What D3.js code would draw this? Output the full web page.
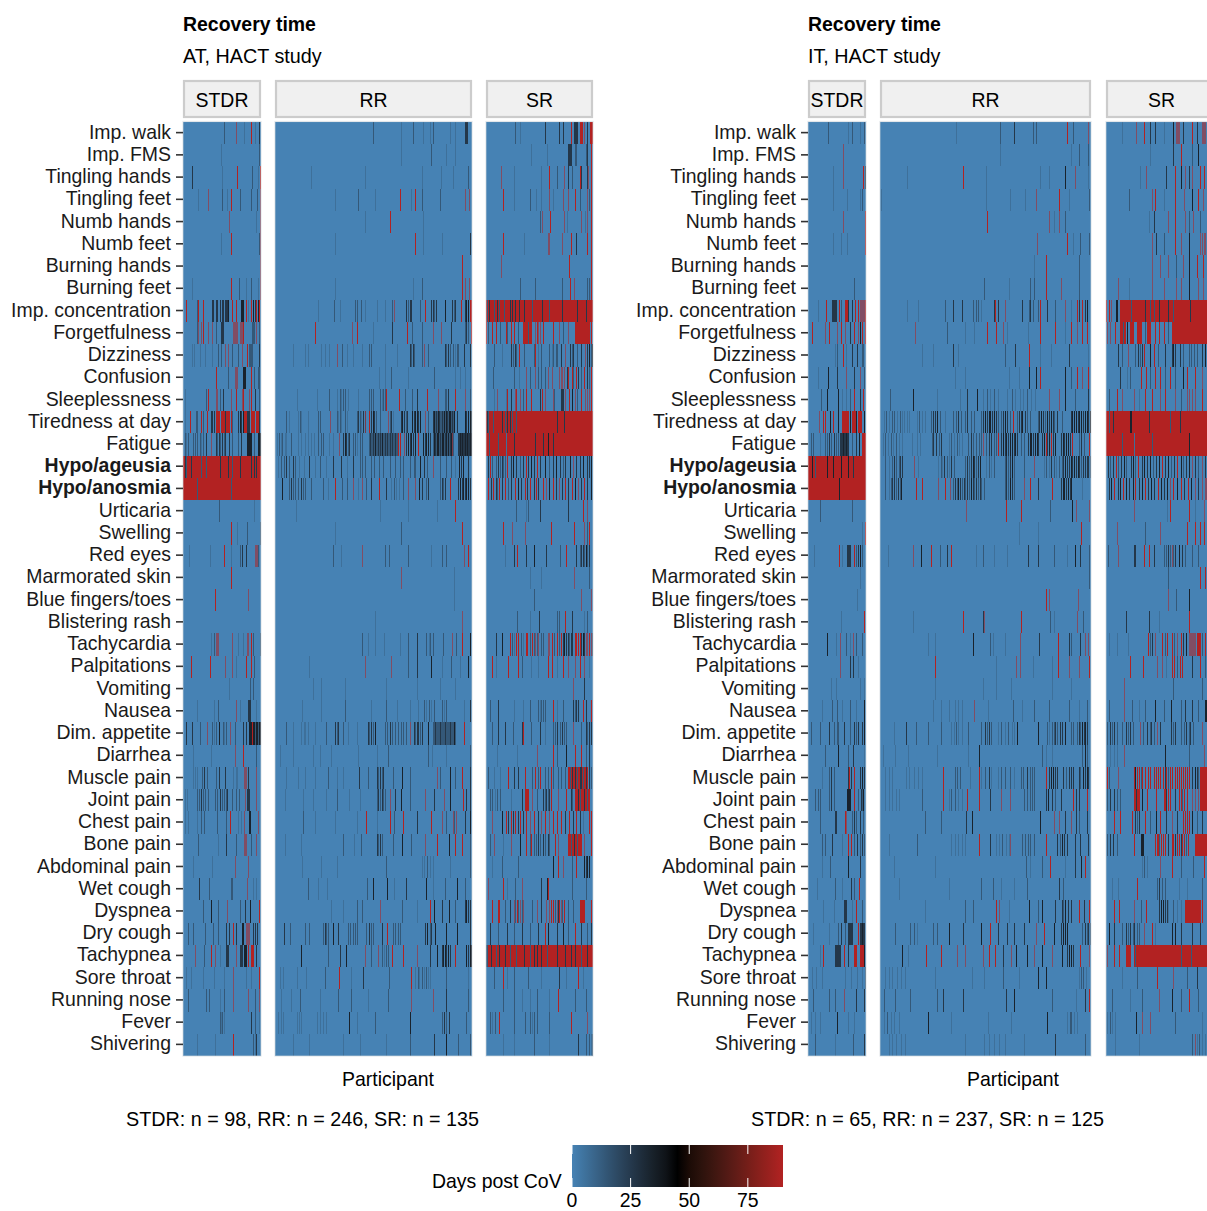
<!DOCTYPE html>
<html>
<head>
<meta charset="utf-8">
<script src="https://cdn.jsdelivr.net/npm/d3@7"></script>
<style>
  body { margin: 0; background: #fff; overflow: hidden; }
  svg { display: block; }
  text { font-family: "Liberation Sans", Arial, sans-serif; font-size: 19.45px; fill: #000; }
  .tick text { fill: #1a1a1a; font-size: 19.45px; font-family: "Liberation Sans", Arial, sans-serif; }
</style>
</head>
<body>
<div id="chart"></div>
<script>
const symptoms = ["Imp. walk","Imp. FMS","Tingling hands","Tingling feet","Numb hands","Numb feet","Burning hands","Burning feet","Imp. concentration","Forgetfulness","Dizziness","Confusion","Sleeplessness","Tiredness at day","Fatigue","Hypo/ageusia","Hypo/anosmia","Urticaria","Swelling","Red eyes","Marmorated skin","Blue fingers/toes","Blistering rash","Tachycardia","Palpitations","Vomiting","Nausea","Dim. appetite","Diarrhea","Muscle pain","Joint pain","Chest pain","Bone pain","Abdominal pain","Wet cough","Dyspnea","Dry cough","Tachypnea","Sore throat","Running nose","Fever","Shivering"];
const boldSymptoms = ["Hypo/ageusia","Hypo/anosmia"];

// days post CoV for the letters used in the rows below (anything not listed = 0 days)
const dayLevels = { l: 6, m: 14, d: 26, k: 34, v: 90, r: 90 };
// v = a red line that the reference shows washed out with its neighbours
const washedOut = "v";

// one string per symptom: participant index (or range) + level letter, later tokens paint over earlier ones
const at_stdr = [
"52m 66v 77l 86r 91l 96d",
"48l 96m",
"11d 49l 68r 87m 94l 97r",
"19l 31v 49m 55l 60r 71m 86m 93m 97v",
"58v 92l 97v",
"48l 60r 96m 97v",
"97v",
"11l 60r 70m 79l 86m 94l 97v",
"4r 17m 19r 25r 36d 38d 41-43d 46d 49-50d 53-56d 57k 62r 66r 73-76k 79r 82l 86r 88k 91d 92r 94k 96r",
"17m 19v 23v 25r 32v 37v 41m 48-50d 63-68v 72-74v 76r 87-89m 92v 96m",
"11l 14l 21l 28l 36l 44m 48m 53v 57v 62m 69m 74v 80r 83-87m 95d",
"41r 56m 65-68v 75-78k 85r 89m 94-96m",
"2l 29m 31r 42-43v 47m 50d 60v 66r 74v 76r 83v 85r 91d 96m",
"3l 9r 16-18m 23r 25m 30r 35d 37d 39d 42-46r 48-52r 53d 54-58r 60r 62m 69d 71k 73d 75k 77-79r 80-83d 85r 87-90r 92-94r 96d",
"2m 4l 6m 12m 15m 18m 21m 23l 25m 29d 35v 41d 43m 45d 47m 49d 51m 53d 58d 62m 69m 73d 80-86k 89m 94-97k",
"0-97r 2d 4m 10d 17v 22m 29m 47d 57d 62m 67v 72d 75-81v 85d 89d 92d 95v",
"0-97r 17m 60m",
"45m 89l",
"60r 68l 81m 97m",
"7l 34l 51d 52r 60l 71m 74d 79d 90-93v 94m",
"60r",
"40r 82v",
"",
"35l 39m 42-44v 61v 69l 76l 80v 82v 85r 88m 97m",
"10r 34r 53v 61v 66l 79-80r 85r 89m",
"58l 84m 88m",
"17l 39l 44m 66v 71l 82-85d 92l",
"4d 11d 21m 30v 37m 39l 42m 45-46k 50m 52l 54m 59v 65m 75d 79d 83-86k 87r 88-97k 91m 94m",
"12l 35l 65v 76r 92m",
"12l 15l 18l 24m 27d 30m 41m 45d 53d 63l 66l 68l 77-79v 82d 92v",
"2l 5l 17m 20m 22d 25m 28m 31m 40m 43m 46d 49m 52m 54m 55d 62m 66m 70m 78v 81-83d 92v",
"2l 6l 17l 23m 27m 43m 54m 59r 69l 73l 77v 83-85k 94v",
"19m 44l 54d 67m 77-79v 85m 92v",
"12l 37l 65v 82v",
"20d 33m 60m 62m 81v 88l 92l",
"25m 35k 44m 55v 71m 78d 84k 95r",
"6m 12m 28m 38m 44m 54d 58d 63r 66d 74-76k 79-83v 88d 90m 91d 93d",
"15v 26m 35r 40v 46l 54-57d 66v 71-74d 77-80k 82r 85-88r 92d",
"4l 10l 25l 39l 52l 63v 79l 85l 95r",
"6m 29m 33m 46l 52m 63v 82v 90m 95v",
"46m 48l 49m 52l 85d 91m 96l",
"17l 40l 63r 88m 90l 92d"
];
const at_rr = [
"122m 157l 172m 185l 193l 197m 218l 225l 237-240d",
"157l 195m 214l 225l",
"45l 113l 183l 207l 222l 241m",
"75l 104m 125l 156r 170l 175r 184m 206m 237v 242v",
"113l 144r 185l",
"75l 175r 185l 208l 244d",
"234r",
"75l 172l 184m 233r 237v 242v",
"54l 74m 81l 100m 102m 108m 113l 127l 137l 146m 148v 164d 166m 168d 170d 181m 187r 195d 197d 199m 201d 212k 221d 223m 225d 232r 237d 239k 241k 243-245r",
"50r 96v 103r 122l 146d 165r 171m 183m 197v 207v 220d 237m 239d 241m 245r",
"22l 37l 41l 58l 63l 68l 77v 84m 90l 98l 109l 117m 120m 137l 152l 168d 170m 172d 174m 183m 186v 191m 212d 214m 216d 218m 222m 225l 227m 229m 236d 243d",
"130l 137l 145m 166l 198m 225l 231l 237l 243l",
"27l 52l 68m 77l 81m 83l 85m 87m 91l 104l 118m 120m 122m 131m 133l 135m 137m 139r 155r 162m 171m 177d 190r 204v 212m 214m 216d 225r 237v 243m",
"14m 18l 29l 31m 33l 41l 54m 56m 69v 77m 79l 81m 83l 87m 90l 102m 104d 106m 108l 110d 112m 113v 118r 120d 122k 124d 126m 131m 141v 143m 145d 147l 157d 159k 161d 163m 165d 171k 173d 175k 177k 179d 181k 187v 191m 197-223m 197d 199k 201d 203k 205d 207m 209d 211k 213k 215d 217k 219k 221d 223k 227d 237k 239d 241k 243k 245d",
"2l 5m 7l 9m 12l 14l 20m 29l 33l 37l 41l 45l 49l 54m 57m 60m 68l 72l 80v 85d 87k 89d 91m 93d 97m 100m 103l 106m 109m 118-152m 119d 122d 125k 128d 131d 134k 137d 140d 143d 146d 150d 153r 156r 161v 164d 166k 168d 170k 172d 175k 178r 185k 187d 189k 191k 193d 197-222m 198k 200d 202k 204k 206d 208k 210k 212d 214k 216k 218d 220k 221v 229-245d 231k 234k 237k 240k 243k 245k",
"4l 7m 11m 14d 18m 22d 25m 30l 36l 43d 50l 56m 64l 72d 83d 90l 97d 106m 109m 112m 120m 123m 130m 135m 143m 150m 156m 160m 168m 173m 175m 181k 186d 190m 197v 206m 214m 220m 225l 230k 232d 235k 241d",
"9k 18m 20d 23m 25m 29m 32d 35m 37m 45m 60m 66l 75r 84m 90m 98v 104l 109v 114m 120d 130r 139d 145l 148m 151l 155l 160m 166v 175v 180k 183d 189m 191d 206m 208d 210m 212d 219r 229d 231k 233d 235k 237d 239k 241k 243d",
"26l 131l 166l 202l 225r",
"75l 157m 234r",
"72m 83l 109v 137m 142m 166m 195l 208m 214m 236v 241r",
"157v 224l",
"224l",
"125l 234v",
"109m 116l 125l 136l 156l 166m 177d 189m 192l 194m 197m 210m 221v 226m 233r 243k",
"42l 113v 145v 166m 177d 195k 208l 220m 231l 241k",
"48l 58l 87l 139l 177l 206l 225l",
"34l 58l 87m 120l 139m 152l 168l 179l 186m 189l 192m 195l 198m 208m 211l 214m 236l 243d",
"14m 22l 33l 36l 38l 41l 50l 64m 75d 77m 79d 85m 91l 102l 116d 118m 120d 122m 125k 137m 140m 143d 146m 150m 154m 157m 160m 163m 168v 173d 175m 177d 179d 181m 183d 191k 197-225m 200d 206d 212d 218d 223k 236r",
"6l 22l 48l 56l 70l 104l 127l 141m 191m 196l 214l 243m",
"14l 29l 37l 50l 66m 77l 85l 105d 116m 127d 129m 131d 133m 135d 147m 158k 168m 202v 206m 218k 225m 233r 243d",
"13l 35l 48l 64l 77m 93l 106l 127m 129d 131m 133d 135m 137m 144v 150d 157k 169m 187v 198d 211v 218k 235r 239d 243d",
"35m 50l 75l 103l 114r 127l 144r 148m 160r 177d 195r 208v 214m 222v 224m 226v 237d 243k",
"13l 33l 85m 99l 108m 127d 129m 131d 133m 147m 158k 170m 187v 202r 217k 225r 233r 243m",
"34l 58l 77l 139m 183l 186l 190m 193l 197l 219l 243m",
"41m 54l 65l 115m 122k 140k 149l 164d 189k 197l 212m 227k 237m",
"70l 85l 103m 109m 131v 158m 177l 194r 198k 208d 217k 225m 237d 239k 241d 243d",
"11d 19m 37m 43m 60m 62d 64m 66m 73k 79d 91m 94m 97m 100m 102m 114m 117d 120m 122m 133d 140r 147m 150m 153m 156m 187d 190k 193m 195d 200k 214k 227k 243d",
"33k 66m 81d 89k 112v 120m 128v 133m 136l 139m 141m 146r 160r 177v 193d 202k 208d 210k 212k 214d 216k 218d 225r 239k 241d 243k 245k",
"6l 10l 27l 39l 62m 80r 95l 110d 142m 170r 175l 178m 180l 183m 186l 188m 191l 194l 214m 241l",
"8l 20l 31m 56l 79m 95m 116l 141m 170v 197v 214d 241m",
"4l 7l 10l 27l 30l 33l 52l 56l 60l 64l 93k 102l 125m 168k 208m 211d 214m 217d 239m",
"22l 43l 85l 106l 139l 168m 199d 213k 229m 243m"
];
const at_sr = [
"37m 43l 74d 92d 97d 107r 111-115d 118-121r 124v 128d 131-134r",
"57l 77l 103-107d 112-114m 126m 128d 133r",
"19v 35l 70l 80r 90m 98v 104d 108m 119r 120d 127d 129v 133r",
"22r 35l 56m 63l 70l 80v 85l 97v 103v 112r 118m 128v 130m 133r",
"68m 71v 81r 98v 102l 120v 125l 128v 133r",
"22r 48l 78v 80v 96v 107r 113d 127r 133r",
"19v 105r 133r",
"43m 62m 96m 106r 111v 127m 130m 133r",
"0-134r 1m 4d 10m 14d 16m 19v 23m 30d 33d 37d 42d 48d 58m 71d 80m 96d 115d 126d",
"0r 2m 8r 13r 18m 25r 27m 31r 35r 40m 47-57r 53m 62v 64r 66v 68v 72r 85r 92v 97m 103v 112-130r 133r",
"10m 20l 32d 34m 36d 38m 42r 48m 60m 62r 65l 70m 80m 83l 85m 88m 90m 95d 100v 106d 108m 110d 115m 120d 125v 128d 130k 132m 134k",
"9m 35m 42l 50v 55m 62v 66m 70m 75m 78v 83v 92v 94v 96v 98v 102d 104r 108r 110m 113r 116d 120m 124r 128d 130m 133r",
"10l 14v 25l 27r 32d 36v 38r 43v 47m 50r 57r 68d 71r 75v 85v 86m 95-97d 100v 105r 108k 112v 115m 120r 125v 127v 130v 133r",
"0-134r 1d 3m 9m 20d 24m 27d 30d 33m 38m 90d 98d",
"0-134r 4m 13v 15m 25l 35d 41v 48v 60v 62d 72d 78k 85d",
"2d 5r 8m 13m 15d 18m 20d 22m 24m 27r 32d 34k 38d 43m 47d 50r 53d 57k 60d 64r 68d 74k 80m 85d 88k 93d 97m 100d 106k 110v 113d 118d 122k 127d 130d 133k",
"3r 6d 9r 12d 14m 17r 20d 24r 28m 32d 37r 40k 44d 49r 52d 56r 60d 63r 66d 72r 76v 80k 84r 88d 92v 96d 100r 104d 108r 112k 116v 120d 124r 128d 132k",
"38m 51l 53m 68d 103d 122r 128v",
"22r 33v 49v 82r 111r 124v 128m 130r",
"24l 35d 39r 50d 60k 76d 93m 101r 114d 118m 120d 122d 124m 126k 128m 130d",
"55l 70l 111v 130m",
"60m 120v 132v",
"39m 55l 67d 89m 92m 100r 108d 124l 128m",
"12d 20k 30r 33m 35l 38r 40r 44m 47l 50r 52r 55m 58r 60m 62v 64m 66v 70m 72m 78v 80v 83r 86m 89r 92m 95r 97d 99k 101d 103d 105m 107d 109d 112r 114r 116r 118r 120d 122k 124d 126v 128v 130r 132v 134m",
"8r 13l 28r 40r 45m 57l 66l 78r 83r 89l 97r 103v 112v 118r 124v 130l",
"110v 124d",
"5m 15d 35l 47l 55m 66m 68l 70m 72m 74m 84r 89l 97m 110d 112m 114d 116d 122r 126d 132r",
"8m 15d 24d 34m 45d 47r 57m 68d 74l 85m 87m 90d 93m 96d 98m 101m 110v 120m 126d 128m 130d 132d",
"14l 39l 64v 85r 89m 101k 112r 120r 126m 130d",
"3m 10l 18l 28r 35d 41d 49r 58m 62r 66m 68r 74m 78m 82r 84m 91m 95m 100m 103-128r 106m 109d 112d 115m 118d 120d 123m 126d 130d 132m",
"5m 8m 11l 14m 18m 32l 45d 49-53r 58v 64m 72d 74m 76d 78m 80d 82r 91v 101r 107d 109m 112-130r 116d 119m 124d 127m",
"8v 20k 25r 28d 31r 34d 37r 40d 43r 47d 50r 55v 60r 65d 70v 75r 80v 85r 90r 95r 100d 105r 110d 114r 118d 122l 130r 133r",
"5m 10v 22l 31v 43k 51r 55m 57r 60m 63m 65d 68m 72d 75m 78d 80m 87r 91v 103-120r 107m 111d 115m 124v 132r",
"8l 20m 41m 84k 91r 97v 108m 114r 124k 126d 128k 130k",
"3v 21r 27l 37m 45v 70d 77k 78r 108m 126m",
"8r 15r 17r 24m 30d 35v 37m 39r 41m 43v 45m 47v 58m 64v 70d 76v 80v 82r 84v 85r 87m 89v 91d 92r 94v 96m 98r 103m 110m 118-124r 132r",
"5d 15m 26d 35m 45d 55m 66d 74r 78k 89d 97k 103m 112r 120d 128m 132d",
"3-134r 0-2m 6d 12m 17d 24d 30m 38m 48d 56m 60d 64d 70d 77m 90d 100d 107d 112d 120m 128d",
"10m 21r 27l 35m 53m 70l 92d 101l 116r 122l",
"22m 35m 45l 55l 64m 80l 91r 112m 126m",
"5m 8l 11m 17r 35m 49m 55m 58l 61m 64m 80m 107r 128v",
"22l 35l 60m 80l 116d 126m 130m 132l 134m"
];
const it_stdr = [
"22m 45l 49m 58l 63m",
"39v",
"28l 39v 62r 64d",
"28l 44l 58l 61m",
"39v 64r",
"28l 37l 44l 64r",
"",
"51m",
"11l 20r 27-32d 35r 37m 41-44r 45d 49d 53r 56r 58-63v 64r",
"5r 19v 24r 33v 37r 41v 47d 52r 56v 58k 61r 64r",
"30l 33m 39r 43l 49d 55d 60m 62m",
"11l 22k 32d 43v 52d 58v 63m",
"15m 21k 34k 38l 43l 47m 52r 58d 62r",
"12v 17r 19r 25k 28r 34k 38-45r 47k 49-53r 54k 56-60r 63k",
"3m 6m 14l 19m 21m 24d 26m 29d 31m 34m 36-45d 39k 43k 49m 54d 57k 60-64r",
"0-64r 4k 8m 21k 28k 37k 45k 50d",
"0-64r 35k",
"13m 49m",
"60l 64r",
"7l 35r 38l 44-47d 51r 54m 56d 58k 60m",
"58l",
"55l",
"37l 63r",
"21k 31l 36v 43m 47l 50v 54m 60m",
"36v 47d 50d 56l",
"26l 31l 58l 63l",
"16l 27m 32m 38l 47m 54l 63k",
"3m 14m 24d 29m 32m 34m 40d 47m 52d 54m 56d 60d 63k",
"19m 34k 45m 50d 63l",
"16l 24m 26d 29m 45d 46r 48d 52r 58d 60m 61k 63d",
"8m 11m 14m 23m 26d 29m 44-47k 52r 56m 59d 60m 62k",
"14m 30-32d 41r 43v 49m 51d 54m 58d 62m",
"16m 19m 27d 38l 45r 48r 52m 55d 58m 60d 63m",
"16l 25m 45k 58d",
"10l 30m 38l 48d 51m 57r",
"17l 29l 40-43d 49l 54r 60m",
"6l 23l 34m 37d 41m 45-49d 56r 58-63d 60k",
"14l 17r 30-36d 40r 45d 51-54r 58-62r 63k",
"4l 9l 16l 41l 48l 55l 60l 64m",
"6m 23m 30m 40v 54d 63d",
"3l 8l 14l 33k 45l 52l",
"8m 30l 50m 63d"
];
const it_rr = [
"85l 135m 151d 172m 175m 210r 217m 234v",
"135l 215l 223m 234m",
"30l 93r 119l 180l 190l 208k 219v 234l",
"1l 119l 146l 163l 175v 201r 212l 235m",
"120r 190v 195l 201v 208m",
"176v 210r 217l 225m 235m",
"173l 187r 223m",
"117m 145l 169m 173m 187r 203v 223m",
"30l 43l 73m 82d 92d 105m 108m 110m 114l 128d 129r 132d 140v 160d 167m 169d 172m 177m 180r 188d 197m 208v 214l 221r 224d 227r 230d 233k",
"39v 75m 95l 106l 120r 130r 138v 143l 166l 180r 197r 208l 214r 221v 227r 233r",
"47l 60l 82d 88l 140m 152d 167r 180l 192l 212d 234l",
"84l 95l 145l 156l 167k 175k 180r 208k 214m 221r 227v 234r",
"11m 37k 64l 90l 98d 109k 116l 120m 124l 128m 132l 143l 148m 152l 157l 161l 165m 170l 174l 190v 201v 208k 219m 234d",
"4l 7m 10l 13m 16m 19l 22m 25l 27l 30l 33l 41l 44m 47l 51l 57m 60d 62d 64k 67m 73l 82m 85m 88d 91m 95m 98d 102m 106m 114m 116d 118k 120d 122k 124k 126d 128k 130d 132m 136m 138d 140k 143d 146m 149r 154m 156d 158d 160k 163d 165m 169m 177m 179d 181k 183d 185m 188k 190d 192k 194d 196m 199d 204m 214d 216k 218k 220k 222d 224k 226k 228d 230k 232k 234d 236k",
"3l 6m 9l 12m 15l 18m 21l 25l 36l 41l 45l 58m 60d 63d 66m 69d 77l 80m 83l 86m 89l 92l 99m 102d 105m 108m 111m 114m 116v 119m 122d 125d 128m 130m 132r 136d 138k 140d 142k 144d 146k 148k 150d 152k 154d 158m 162m 166d 168k 170k 172d 174k 176k 177d 182d 184k 186r 188d 190k 192r 194d 197k 203d 205k 207d 209k 211k 213d 216r 223m 226d 229m 235r",
"6m 10l 13m 16d 18m 21m 23d 25d 38v 43l 65l 68m 70l 72d 75m 78l 80d 83m 95m 98d 100m 102d 104k 106d 108m 110d 112k 119l 122m 125l 128m 140m 142d 144m 146d 148k 151m 162m 173v 184l 187m 190l 192d 195m 198l 201m 204m 206d 208k 210d 212d 214k 216d 218k 220d 222k 224d 226m 228d 230d 232d 234d 236m",
"6m 10l 12m 14d 16d 18m 20d 22m 24k 40r 47r 65v 73r 79v 82m 84d 86m 88k 90d 92m 94d 96m 98d 100m 102k 104d 106m 108d 110m 112d 114m 117m 140m 142d 144m 146k 148d 151m 162v 169r 177d 193r 203d 205k 207k 209d 211k 213d 214k 227l",
"97v 141r 158r 191m 216k 220v 235v",
"156l 177l 226r",
"9l 37v 46k 57r 67m 75d 80r 108l 116m 128l 143l 166d 177d 195m 210l 219k 225d 235m",
"235m",
"187r 190v 222v",
"37l 93r 116d 117v 158r 191m 196l 221v 228m",
"54l 62l 104k 124m 127l 140l 157v 179d 200r 212d 214m 225d 230v 234v",
"62r 130l 153v 157v 172l 193l 200r 212v 224v 235r",
"62l 116l 130l 147l 193l 214l",
"60l 69l 77l 84l 88l 92l 106v 121l 149m 160l 173m 190m 212m 223l 232m",
"16l 29d 40m 54m 69m 80l 83l 85m 88l 92l 99m 114m 118d 120m 122d 125m 132l 136m 140l 144m 148l 151l 154k 177k 188m 190l 193m 195m 197d 199m 202d 204d 208k 214m 217m 221m 223d 225m 227k 229d 230k 232d",
"3l 17l 32l 64l 99l 111k 182m 186l 193l 227m 230k 232m",
"6l 10l 14l 29l 33l 38l 43l 47l 71r 84m 87m 90m 101l 111r 114l 118m 122d 125l 132l 136m 140m 146m 151l 158m 161m 165d 168m 171m 173m 186r 190d 192k 194k 197d 199d 206d 209m 212d 214d 217d 223d 225m 228k 230d 232k 234d",
"6l 10l 14l 18l 21l 47m 71r 77l 80m 84m 88l 92l 98r 111r 124d 136v 146v 162m 165m 168m 171m 173m 186d 189k 193d 197m 203d 217r 220d 223d 232r",
"51m 69m 97d 103k 180k 195v 201v 208d 214v 220d 223m 232d",
"10l 41m 80l 84l 88l 92l 95l 111r 124d 130l 134l 137m 141l 145l 146v 160m 163m 166m 169m 173m 186r 199d 202m 204k 207d 210d 219d 225d 234d",
"16l 62l 164m 169l 182m 191r 208l 219d 226k 230r",
"21l 78l 114m 127m 136l 151l 165m 201d 206m",
"51l 95m 104m 130r 134v 145l 167k 177m 182k 197d 204d 206m 208k 211d 214d 223r 229d 235r",
"17m 34m 38m 42l 60m 64m 78k 93d 114k 124r 132d 143d 151d 162d 175v 184r 195k 203d 206k 208k 210k 227m 230d 232m 234d 236m",
"25k 32l 52r 69r 86v 95v 116v 122r 129r 138d 147v 153k 165k 173v 182k 193v 204k 210d 212k 214k 217d 225r 235v",
"6l 10l 14l 19l 24l 28l 62l 103l 117l 138m 156l 177k 186k 223l 226m 228m 231l",
"4m 17m 34m 64m 71d 93d 141d 151k 193m 220l 230d 235r",
"4l 8m 12l 16l 21l 54k 80l 121l 147l 188k 210l 213m 215m 218l 221l",
"10l 14l 18l 24l 28l 95l 117l 122l 128l 134l 140l 162l 197d 230m"
];
const it_sr = [
"18l 34v 43r 50d 55d 65l 76k 79-82v 87d 97r 102d 108-112v",
"50l 76d 85r 97m 104k",
"38l 45v 68d 78r 84k 89v 93d 97v 106r 110r",
"26m 52v 55r 65l 78r 88v 97k 104r 109v",
"48l 54d 70v 78r 89v 93m 98v 106m",
"52v 56d 65m 78r 85v 93k 106v 108v 110v 112v",
"52v 61v 70v 79m 87v 94k 103r 109r",
"13v 26l 52v 65v 79v 85v 94k 104v 109v",
"0r 3r 6v 11-13k 16-125r 28m 44d 49m 54m 60d 70d 75m 95d",
"1v 5v 10r 16-22r 19m 24k 27-31r 35-40r 44m 46-50r 55r 60r 65r 70m 74-125r 98v",
"14d 18m 25v 33m 36d 38m 40d 43r 50k 54r 59m 67d 74d 76k 78d 83d 87m 93m 96m 99m 102m 108d 112k",
"16d 24l 27m 39r 45r 50m 55r 61r 67m 72r 78m 87k 91r 100r 108v",
"3m 12r 18v 31v 37l 44r 52r 61v 67r 78v 84m 91v 94v 97v 100v 108r",
"0-125r 3m 8d 27-28k 48d 72m 83d",
"0-125r 18m 31l 52m 93k",
"2d 5m 8d 11r 14m 17d 20k 23m 28d 30k 33m 36r 40d 43k 46d 50k 53m 56d 60k 63r 66d 70k 73m 77d 80r 84k 87m 90d 94k 97v 100d 104m 108v 112d",
"3d 6k 9r 13d 16k 19r 23k 26d 30k 33r 37d 40k 44r 47d 51k 54d 58r 62k 65d 69k 72v 76r 80k 84r 88d 92r 96k 100v 104d 108v 112-118v",
"31v 69l 72r 93r 100l 110v",
"12v 44m 61v 91r 100r 106r 110r",
"2m 14v 31-33d 43r 48r 54d 65m 68m 70d 72m 74v 76m 78d 82k 86d 89m 97m 104m",
"70m 106r 112r",
"70v 79m 94k",
"22d 48d 60l 94r",
"3l 12l 25l 47r 50m 52d 55v 63r 66m 69r 74r 77m 80v 84r 87d 90k 93v 95-100v 102-106r 108m 111r",
"27r 42r 57v 63v 68l 74r 77r 80m 83r 86r 97d 106r 112m",
"20v 76m 108m",
"3m 20v 29m 37l 44m 55k 65m 73k 84m 89d 97d 104m 112-113k",
"1m 4d 7m 9d 12m 18m 22d 25m 27d 30m 38v 42m 46d 49m 51d 54m 57v 61d 73d 75m 78d 85m 88m 90d 93m 95d 98m 108v",
"1l 5l 9l 12l 20v 67k 93m 110v",
"1r 3m 14v 31r 33k 35r 37r 39m 41r 44r 47r 50r 54r 56r 59r 61r 64r 66d 68r 70m 72r 74r 78r 80r 82r 84r 87r 89r 91r 93r 97d 100k 102d 104m 106-113r",
"1m 5d 9d 12m 16m 31-37r 34d 40k 46r 56r 65r 67r 68d 70r 72r 78d 82r 84r 86m 88r 91r 97v 100v 104v 106-113r",
"9r 16r 29r 33d 35m 37d 44r 50m 56k 61r 68d 74v 80d 87r 89r 91r 93r 97k 102m 108d",
"1m 4d 8d 12m 31r 39-42k 55r 57r 59r 60m 62r 64r 67r 70d 74r 76r 78d 80r 82r 84d 86r 88r 90m 92r 100-113r",
"40l 43m 46l 61v 74r 85m 98m 110r",
"7l 14l 35r 57m 60d 63m 67m 82l 91l 108m",
"9r 15r 31v 39m 45r 60d 62k 64k 66d 69d 70l 75m 80l 85l 89-106r 94v 99v 108r",
"3k 9d 18m 22d 25m 27d 30m 32d 35m 37m 43v 52r 55l 74k 78k 85d 97d 106d",
"1v 9r 15r 22-27r 31-125r 33m 45v 60v 69v 85m 96m",
"18l 35m 57r 76v 91m 102d",
"7m 27l 40m 60v 74k 85m 94r 104m",
"1l 4m 7l 10l 34k 40v 50v 78m 108l",
"10l 37l 97m 100v 102l 105m 108l 111l"
];

const panelTicks = [0, 25, 50, 75];

const colorScale = d3.scaleLinear().domain([0, 45, 90]).range(["#4682B4", "#000000", "#B22222"]).interpolate(d3.interpolateLab);
const yScale = d3.scaleBand().domain(symptoms).range([122, 1056]);

// panels: name, participants, pixel extent
const charts = [
  { subtitle: "AT, HACT study", caption: "STDR: n = 98, RR: n = 246, SR: n = 135", dx: 0, panels: [
    { name: "STDR", n: 98, x0: 183, x1: 261, rows: at_stdr },
    { name: "RR", n: 246, x0: 275, x1: 472, rows: at_rr },
    { name: "SR", n: 135, x0: 486, x1: 593, rows: at_sr } ] },
  { subtitle: "IT, HACT study", caption: "STDR: n = 65, RR: n = 237, SR: n = 125", dx: 625, panels: [
    { name: "STDR", n: 65, x0: 183, x1: 241, rows: it_stdr },
    { name: "RR", n: 237, x0: 255, x1: 466, rows: it_rr },
    { name: "SR", n: 125, x0: 481, x1: 592, rows: it_sr } ] }
];

const svg = d3.select("#chart").append("svg").attr("width", 1207).attr("height", 1211);

function parseRow(str) {
  if (!str) return [];
  return str.split(" ").map(t => {
    const m = t.match(/^(\d+)(?:-(\d+))?([a-z])$/);
    return { from: +m[1], to: m[2] ? +m[2] : +m[1], days: dayLevels[m[3]], washed: m[3] === washedOut };
  });
}

charts.forEach(chart => {
  const g = svg.append("g").attr("transform", `translate(${chart.dx},0)`);

  g.append("text").attr("x", 183).attr("y", 31).style("font-weight", "bold").text("Recovery time");
  g.append("text").attr("x", 183).attr("y", 63).style("font-size", "19.75px").text(chart.subtitle);

  chart.panels.forEach(p => {
    const x = d3.scaleLinear().domain([0, p.n]).range([p.x0, p.x1]);
    const left = d => Math.round(x(d.from));
    const right = d => Math.max(left(d) + 1, Math.round(x(d.to + 1)));

    // strip
    g.append("rect").attr("x", p.x0 + 1).attr("y", 81).attr("width", p.x1 - p.x0 - 2).attr("height", 36)
      .attr("fill", "#f0f0f0").attr("stroke", "#cccccc").attr("stroke-width", 2.2);
    g.append("text").attr("x", (p.x0 + p.x1) / 2).attr("y", 107).attr("text-anchor", "middle").text(p.name);

    // base = 0 days
    g.append("rect").attr("x", p.x0).attr("y", 122).attr("width", p.x1 - p.x0).attr("height", 934).attr("fill", colorScale(0));

    const rows = g.append("g").attr("shape-rendering", "crispEdges");
    symptoms.forEach((s, i) => {
      const y0 = Math.round(yScale(s));
      const y1 = Math.round(yScale(s) + yScale.bandwidth());
      rows.append("g").selectAll("rect")
        .data(parseRow(p.rows[i]))
        .join("rect")
        .attr("x", left)
        .attr("y", y0)
        .attr("width", d => right(d) - left(d))
        .attr("height", y1 - y0)
        .attr("fill", d => colorScale(d.days))
        .attr("fill-opacity", d => d.washed ? 0.55 : 1);
    });

    g.append("rect").attr("x", p.x0).attr("y", 121.5).attr("width", p.x1 - p.x0).attr("height", 934.5)
      .attr("fill", "none").attr("stroke", "#cfd6dc").attr("stroke-opacity", 0.6).attr("stroke-width", 1.2);
  });

  // symptom axis
  const yAxis = g.append("g").attr("transform", "translate(183,0)")
    .call(d3.axisLeft(yScale).tickSize(7).tickPadding(5));
  yAxis.select(".domain").remove();
  yAxis.selectAll(".tick line").attr("stroke", "#333333").attr("stroke-width", 1.6).attr("transform", "translate(0,-0.5)");
  yAxis.selectAll(".tick text").attr("fill", "#111").attr("transform", "translate(0,-0.7)")
    .style("font-weight", d => boldSymptoms.includes(d) ? "bold" : "normal");

  g.append("text").attr("x", 388).attr("y", 1086).attr("text-anchor", "middle").text("Participant");
  g.append("text").attr("x", 126).attr("y", 1126).style("font-size", "19.75px").text(chart.caption);
});

// legend
const legendX = d3.scaleLinear().domain([0, 90]).range([572, 783]);
const defs = svg.append("defs");
const grad = defs.append("linearGradient").attr("id", "days-gradient");
grad.selectAll("stop").data(d3.range(0, 91, 5)).join("stop")
  .attr("offset", d => `${d / 90 * 100}%`).attr("stop-color", d => colorScale(d));
svg.append("rect").attr("x", 572).attr("y", 1145).attr("width", 211).attr("height", 42).attr("fill", "url(#days-gradient)");
const legendTicks = svg.append("g").selectAll("g").data(panelTicks).join("g");
legendTicks.append("line").attr("x1", d => legendX(d)).attr("x2", d => legendX(d)).attr("y1", 1145).attr("y2", 1154)
  .attr("stroke", "#fff").attr("stroke-width", 1);
legendTicks.append("line").attr("x1", d => legendX(d)).attr("x2", d => legendX(d)).attr("y1", 1178).attr("y2", 1187)
  .attr("stroke", "#fff").attr("stroke-width", 1);
legendTicks.append("text").attr("x", d => legendX(d)).attr("y", 1206.5).attr("text-anchor", "middle").text(d => d);
svg.append("text").attr("x", 432).attr("y", 1188).text("Days post CoV");
</script>
</body>
</html>
